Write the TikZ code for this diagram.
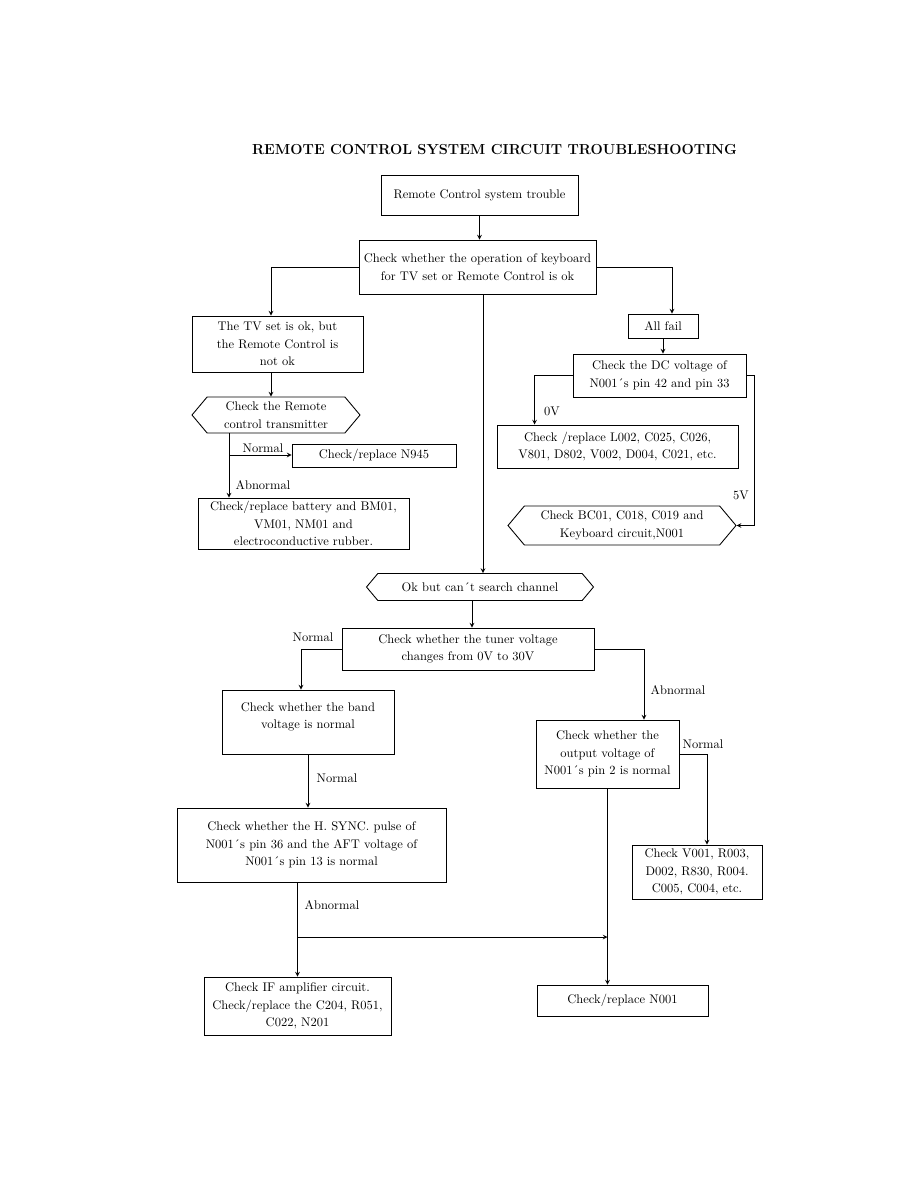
\documentclass[tikz,border=0pt]{standalone}
\usetikzlibrary{shapes.symbols,arrows,positioning,calc}

\begin{document}
\begin{tikzpicture}[
  x=0.8pt, y=-0.8pt,
  every node/.style={font=\fontsize{10}{14}\selectfont},
  box/.style={draw, rectangle, align=center, inner sep=0pt, line width=0.7pt},
  hexa/.style={draw, shape=signal, signal to=west and east, signal pointer angle=100,
    align=center, inner sep=0pt, line width=0.7pt},
  ptr/.style={->, >=stealth, line width=0.7pt},
  lnk/.style={line width=0.7pt}
]
\useasboundingbox[fill=white] (0,0) rectangle (918,1188);

% Title
\node[font=\fontsize{11.6}{13}\bfseries\selectfont] (title) at (494.5,150)
  {REMOTE CONTROL SYSTEM CIRCUIT TROUBLESHOOTING};

% Top
\node[box, minimum width=157.6pt, minimum height=32pt] (start) at (479.5,195) {Remote Control system trouble};
\node[box, minimum width=189.6pt, minimum height=43.2pt] (kbd) at (477.5,267)
  {Check whether the operation of keyboard\\for TV set or Remote Control is ok};

% Left branch - remote control
\node[box, minimum width=136.8pt, minimum height=44.8pt] (tvok) at (277.5,344)
  {The TV set is ok, but\\the Remote Control is\\not ok};
\node[hexa, minimum width=134.4pt, minimum height=28.8pt] (remhex) at (276,415)
  {Check the Remote\\control transmitter};
\node[box, minimum width=131.2pt, minimum height=18.4pt] (n945) at (374,455.5) {Check/replace N945};
\node[box, minimum width=168.8pt, minimum height=40.8pt] (batt) at (303.5,523.5)
  {Check/replace battery and BM01,\\VM01, NM01 and\\electroconductive rubber.};

% Right branch - all fail
\node[box, minimum width=56pt, minimum height=19.2pt] (allfail) at (663,326) {All fail};
\node[box, minimum width=138.4pt, minimum height=34.4pt] (dcv) at (659.5,375.5)
  {Check the DC voltage of\\N001´s pin 42 and pin 33};
\node[box, minimum width=192.8pt, minimum height=34.4pt] (l002) at (617.5,446.5)
  {Check /replace L002, C025, C026,\\V801, D802, V002, D004, C021, etc.};
\node[hexa, minimum width=182.4pt, minimum height=31.2pt] (bc01) at (622,525.5)
  {Check BC01, C018, C019 and\\Keyboard circuit,N001};

% Middle - channel search
\node[hexa, minimum width=181.6pt, minimum height=21.6pt] (okhex) at (480,587) {Ok but can´t search channel};
\node[box, minimum width=201.6pt, minimum height=33.6pt] (tuner) at (468,649)
  {Check whether the tuner voltage\\changes from 0V to 30V};
\node[box, minimum width=137.6pt, minimum height=51.2pt] (band) at (308,722)
  {Check whether the band\\voltage is normal\\[-4pt]};
\node[box, minimum width=215.2pt, minimum height=59.2pt] (hsync) at (311.5,845)
  {Check whether the H. SYNC. pulse of\\N001´s pin 36 and the AFT voltage of\\N001´s pin 13 is normal};
\node[box, minimum width=149.6pt, minimum height=46.4pt] (ifamp) at (297.5,1006)
  {Check IF amplifier circuit.\\Check/replace the C204, R051,\\C022, N201};
\node[box, minimum width=114.4pt, minimum height=54.4pt] (pin2) at (607.5,754)
  {Check whether the\\output voltage of\\N001´s pin 2 is normal};
\node[box, minimum width=104pt, minimum height=43.2pt] (v001) at (697,872)
  {Check V001, R003,\\D002, R830, R004.\\C005, C004, etc.};
\node[box, minimum width=136.8pt, minimum height=24.8pt] (n001) at (622.5,1000.5) {Check/replace N001};

% Connectors - top and left
\draw[ptr] (start.south) -- (start.south |- kbd.north);
\draw[ptr] (kbd.west) -| ([xshift=-5.2pt]tvok.north);
\draw[ptr] ([xshift=-5.2pt]tvok.south) -- ([xshift=-5.2pt]tvok.south |- remhex.north);
\coordinate (nb) at (229,455);
\draw[ptr] (remhex.south -| nb) -- (batt.north -| nb);
\draw[ptr] (nb) -- (nb -| n945.west);
\node (lnorm1) at (263,448) {Normal};
\node (labn1) at (263,485) {Abnormal};

% Connectors - right
\draw[ptr] (kbd.east) -| ([xshift=7.2pt]allfail.north);
\draw[ptr] (allfail.south) -- (allfail.south |- dcv.north);
\draw[ptr] (dcv.west) -| ([xshift=30.4pt]l002.north west);
\draw[ptr] (dcv.east) -- ++(6.4pt,0) |- (bc01.east);
\node (l0v) at (552,411) {0V};
\node (l5v) at (741,495) {5V};

% Connectors - middle and bottom
\draw[ptr] ([xshift=4.4pt]kbd.south) -- ([xshift=4.4pt]kbd.south |- okhex.north);
\draw[ptr] ([xshift=-6.4pt]okhex.south) -- ([xshift=-6.4pt]okhex.south |- tuner.north);
\draw[ptr] (tuner.west) -| ([xshift=-5.6pt]band.north);
\node (lnorm2) at (313,637) {Normal};
\draw[ptr] (tuner.east) -| ([xshift=29.2pt]pin2.north);
\node (labn2) at (678,690) {Abnormal};
\draw[ptr] (band.south) -- (band.south |- hsync.north);
\node (lnorm3) at (337,778) {Normal};
\draw[ptr] (ifamp.north |- hsync.south) -- (ifamp.north);
\node (labn3) at (332,905) {Abnormal};
\coordinate (jn) at (pin2.south |- 0,937);
\draw[ptr] (ifamp.north |- jn) -- (jn);
\draw[ptr] (pin2.south) -- (pin2.south |- n001.north);
\draw[ptr] (pin2.east) -| ([xshift=8pt]v001.north);
\node (lnorm4) at (703,744) {Normal};
\end{tikzpicture}
\end{document}
